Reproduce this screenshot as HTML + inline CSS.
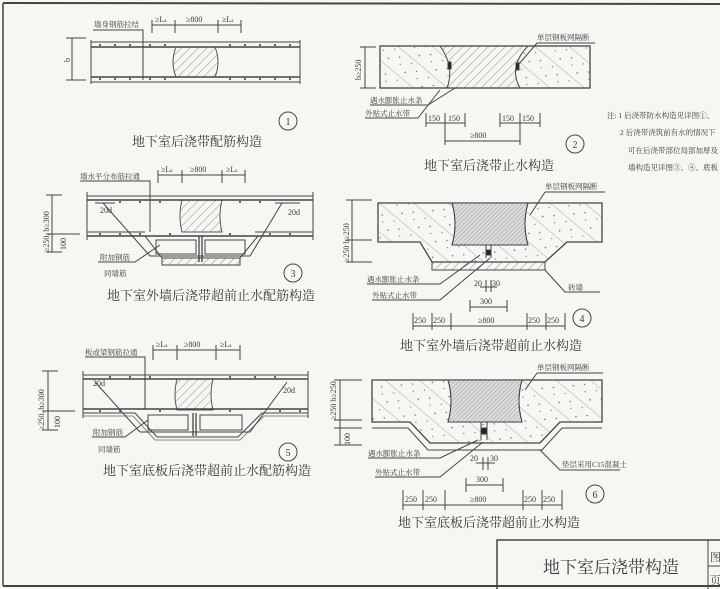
<!DOCTYPE html>
<html><head><meta charset="utf-8"><style>
html,body{margin:0;padding:0;background:#f6f6f3;}
svg{display:block;}
text{font-family:"Liberation Serif","Noto Serif CJK SC",serif;fill:#3a3a3a;}
.t{font-size:13px;}
.s{font-size:7.5px;}
.d{font-size:8px;}
.n{font-size:10px;text-anchor:middle;}
</style></head><body>
<svg width="720" height="589" viewBox="0 0 720 589" xmlns="http://www.w3.org/2000/svg">
<defs>
<pattern id="h" width="6" height="6" patternUnits="userSpaceOnUse" patternTransform="rotate(45)"><line x1="0" y1="0" x2="0" y2="6" stroke="#777" stroke-width="0.8"/></pattern>
<pattern id="hd" width="3" height="3" patternUnits="userSpaceOnUse" patternTransform="rotate(45)"><line x1="0" y1="0" x2="0" y2="3" stroke="#888" stroke-width="0.8"/></pattern>
<pattern id="c" width="22" height="22" patternUnits="userSpaceOnUse" patternTransform="rotate(-50)"><line x1="0" y1="0" x2="0" y2="22" stroke="#888" stroke-width="0.7"/><circle cx="7" cy="5" r="0.8" fill="#666"/><circle cx="15" cy="13" r="0.7" fill="#666"/><circle cx="10" cy="18" r="0.6" fill="#666"/><circle cx="18" cy="4" r="0.6" fill="#666"/></pattern>
</defs>
<g stroke="#444" fill="none" stroke-width="1">
<line x1="3" y1="3" x2="720" y2="4" stroke-width="2"/>
<line x1="3" y1="3" x2="3" y2="586" stroke-width="1.5"/>
<line x1="3" y1="586" x2="720" y2="586" stroke-width="2"/>
<rect x="497" y="540" width="230" height="50" stroke-width="1.5"/>
<line x1="708" y1="540" x2="708" y2="589"/>
<line x1="708" y1="566" x2="720" y2="566"/>

<!-- Diagram 1 -->
<path d="M176,47 Q170,62 176,77 L215,77 Q221,62 215,47 Z" fill="url(#h)" stroke="#555"/>
<line x1="91" y1="42" x2="300" y2="42"/><line x1="91" y1="47" x2="300" y2="47" stroke-width="1.5"/>
<line x1="91" y1="77" x2="300" y2="77" stroke-width="1.5"/><line x1="91" y1="82" x2="300" y2="82"/>
<line x1="91" y1="40" x2="91" y2="84"/><line x1="300" y1="40" x2="300" y2="84"/>
<line x1="66" y1="38" x2="86" y2="38"/><line x1="66" y1="80" x2="86" y2="80"/><line x1="72" y1="38" x2="72" y2="80"/>
<polyline points="93,30 143,30 143,80"/>
<line x1="152" y1="25" x2="241" y2="25"/>
<line x1="152" y1="20" x2="152" y2="33"/><line x1="175" y1="20" x2="175" y2="33"/><line x1="218" y1="20" x2="218" y2="33"/><line x1="241" y1="20" x2="241" y2="33"/>
<circle cx="288" cy="121" r="9"/>

<!-- Diagram 2 -->
<path d="M380,46 L440,46 Q455,67 447,88 L380,88 Z" fill="url(#c)" stroke="none"/>
<path d="M440,46 L528,46 Q508,67 520,88 L447,88 Q455,67 440,46 Z" fill="url(#h)" stroke="none"/>
<path d="M528,46 L590,46 L590,88 L520,88 Q508,67 528,46 Z" fill="url(#c)" stroke="none"/>
<path d="M440,46 Q455,67 447,88 M528,46 Q508,67 520,88"/>
<rect x="380" y="46" width="210" height="42" stroke-width="1.3"/>
<rect x="448" y="62" width="3" height="7" fill="#222"/><rect x="516" y="63" width="3" height="7" fill="#222"/>
<line x1="360" y1="47" x2="376" y2="47"/><line x1="360" y1="88" x2="376" y2="88"/><line x1="365" y1="47" x2="365" y2="88"/>
<polyline points="370,105 428,105 455,88"/><polyline points="365,118 418,118 440,90"/>
<polyline points="537,43 595,43"/><line x1="537" y1="43" x2="519" y2="64"/>
<line x1="426" y1="123" x2="465" y2="123"/><line x1="500" y1="123" x2="540" y2="123"/>
<line x1="426" y1="113" x2="426" y2="127"/><line x1="445" y1="113" x2="445" y2="145"/><line x1="465" y1="113" x2="465" y2="127"/>
<line x1="500" y1="113" x2="500" y2="127"/><line x1="520" y1="113" x2="520" y2="145"/><line x1="540" y1="113" x2="540" y2="127"/>
<line x1="445" y1="141" x2="520" y2="141"/>
<circle cx="575" cy="144" r="9"/>

<!-- Diagram 3 -->
<path d="M182,200 Q178,216 182,232 L222,232 Q218,216 222,200 Z" fill="url(#h)" stroke="#555"/>
<line x1="87" y1="196" x2="313" y2="196"/><line x1="87" y1="200" x2="313" y2="200" stroke-width="1.5"/>
<polyline points="87,232 145,232"/><polyline points="255,232 313,232"/>
<line x1="87" y1="236" x2="313" y2="236" stroke-width="1.5"/>
<polyline points="145,236 162,258 240,258 258,236"/>
<rect x="162" y="258" width="78" height="7" fill="url(#h)"/>
<line x1="103" y1="203" x2="150" y2="256"/><line x1="150" y1="256" x2="250" y2="256"/><line x1="282" y1="203" x2="250" y2="256"/>
<line x1="95" y1="203" x2="115" y2="203"/><line x1="275" y1="203" x2="300" y2="203"/>
<rect x="156" y="240" width="40" height="14"/><rect x="205" y="240" width="40" height="14"/>
<line x1="199" y1="236" x2="199" y2="262" stroke-width="1.3"/><line x1="202" y1="236" x2="202" y2="262" stroke-width="1.3"/>
<line x1="87" y1="192" x2="87" y2="240"/><line x1="313" y1="192" x2="313" y2="240"/>
<polyline points="80,181 150,181 150,232"/>
<line x1="158" y1="175" x2="245" y2="175"/>
<line x1="158" y1="170" x2="158" y2="183"/><line x1="182" y1="170" x2="182" y2="183"/><line x1="222" y1="170" x2="222" y2="183"/><line x1="245" y1="170" x2="245" y2="183"/>
<line x1="46" y1="195" x2="62" y2="195"/><line x1="46" y1="234" x2="80" y2="234"/><line x1="46" y1="252" x2="62" y2="252"/><line x1="52" y1="195" x2="52" y2="252"/>
<polyline points="98,262 135,262 160,245"/>
<circle cx="293" cy="273" r="9"/>

<!-- Diagram 4 -->
<path d="M378,203 L602,203 L602,242 L567,242 L545,262 L432,262 L420,242 L378,242 Z" fill="url(#c)" stroke-width="1.3"/>
<path d="M452,203 L528,203 Q522,224 528,245 L452,245 Q458,224 452,203 Z" fill="#ddd" stroke="#555"/>
<path d="M452,203 L528,203 Q522,224 528,245 L452,245 Q458,224 452,203 Z" fill="url(#hd)"/>
<rect x="432" y="262" width="113" height="8" fill="url(#h)"/>
<line x1="486" y1="245" x2="486" y2="258"/><line x1="491" y1="245" x2="491" y2="258"/>
<rect x="486" y="250" width="5" height="5" fill="#222"/>
<line x1="352" y1="200" x2="352" y2="262"/><line x1="346" y1="200" x2="372" y2="200"/><line x1="346" y1="240" x2="372" y2="240"/><line x1="346" y1="262" x2="372" y2="262"/>
<polyline points="545,192 605,192"/><line x1="545" y1="192" x2="530" y2="215"/>
<polyline points="367,284 440,284 480,255"/><polyline points="372,300 440,300 490,258"/>
<polyline points="545,270 565,292 600,292"/>
<line x1="486" y1="280" x2="486" y2="292"/><line x1="491" y1="280" x2="491" y2="292"/><line x1="480" y1="287" x2="497" y2="287"/>
<line x1="470" y1="307" x2="507" y2="307"/><line x1="470" y1="300" x2="470" y2="312"/><line x1="507" y1="300" x2="507" y2="312"/>
<line x1="413" y1="326" x2="565" y2="326"/>
<line x1="413" y1="313" x2="413" y2="330"/><line x1="432" y1="313" x2="432" y2="330"/><line x1="451" y1="313" x2="451" y2="330"/><line x1="527" y1="313" x2="527" y2="330"/><line x1="546" y1="313" x2="546" y2="330"/><line x1="565" y1="313" x2="565" y2="330"/>
<circle cx="582" cy="318" r="9"/>

<!-- Diagram 5 -->
<path d="M177,379 Q173,394 177,410 L213,410 Q209,394 213,379 Z" fill="url(#h)" stroke="#555"/>
<line x1="83" y1="375" x2="308" y2="375"/><line x1="83" y1="379" x2="308" y2="379" stroke-width="1.5"/>
<line x1="83" y1="409" x2="308" y2="409" stroke-width="1.5"/>
<polyline points="83,413 135,413 157,437 238,437 262,413 308,413"/>
<polyline points="83,416 133,416 155,440 240,440 264,416 308,416" stroke="#888"/>
<line x1="95" y1="382" x2="140" y2="432"/><line x1="140" y1="432" x2="250" y2="432"/><line x1="287" y1="382" x2="250" y2="432"/>
<rect x="148" y="415" width="40" height="15"/><rect x="200" y="415" width="42" height="15"/>
<line x1="193" y1="413" x2="193" y2="436" stroke-width="1.3"/><line x1="196" y1="413" x2="196" y2="436" stroke-width="1.3"/>
<line x1="83" y1="371" x2="83" y2="418"/><line x1="308" y1="371" x2="308" y2="418"/>
<polyline points="85,357 145,357 145,409"/>
<line x1="153" y1="350" x2="240" y2="350"/>
<line x1="153" y1="345" x2="153" y2="360"/><line x1="177" y1="345" x2="177" y2="360"/><line x1="216" y1="345" x2="216" y2="360"/><line x1="240" y1="345" x2="240" y2="360"/>
<line x1="42" y1="371" x2="58" y2="371"/><line x1="42" y1="411" x2="75" y2="411"/><line x1="42" y1="430" x2="58" y2="430"/><line x1="48" y1="371" x2="48" y2="430"/>
<polyline points="92,437 125,437 148,420"/>
<circle cx="288" cy="452" r="9"/>

<!-- Diagram 6 -->
<path d="M372,380 L602,380 L602,422 L560,422 L540,443 L430,443 L410,422 L372,422 Z" fill="url(#c)" stroke-width="1.3"/>
<polyline points="372,428 408,428 428,450 542,450 562,428 602,428"/>
<path d="M448,380 L522,380 Q516,401 522,422 L448,422 Q454,401 448,380 Z" fill="#ddd" stroke="#555"/>
<path d="M448,380 L522,380 Q516,401 522,422 L448,422 Q454,401 448,380 Z" fill="url(#hd)"/>
<line x1="481" y1="422" x2="481" y2="440"/><line x1="487" y1="422" x2="487" y2="440"/>
<rect x="481" y="428" width="6" height="6" fill="#222"/>
<line x1="340" y1="380" x2="340" y2="445"/><line x1="334" y1="380" x2="362" y2="380"/><line x1="334" y1="420" x2="362" y2="420"/><line x1="334" y1="428" x2="362" y2="428"/><line x1="334" y1="445" x2="362" y2="445"/>
<polyline points="537,373 603,373"/><line x1="537" y1="373" x2="525" y2="390"/>
<polyline points="368,458 440,458 478,440"/><polyline points="375,477 440,477 483,442"/>
<polyline points="540,450 560,470 620,470"/>
<line x1="483" y1="457" x2="483" y2="470"/><line x1="488" y1="457" x2="488" y2="470"/><line x1="476" y1="463" x2="495" y2="463"/>
<line x1="466" y1="485" x2="503" y2="485"/><line x1="466" y1="478" x2="466" y2="492"/><line x1="503" y1="478" x2="503" y2="492"/>
<line x1="403" y1="505" x2="562" y2="505"/>
<line x1="403" y1="490" x2="403" y2="510"/><line x1="423" y1="490" x2="423" y2="510"/><line x1="445" y1="490" x2="445" y2="510"/><line x1="523" y1="490" x2="523" y2="510"/><line x1="542" y1="490" x2="542" y2="510"/><line x1="562" y1="490" x2="562" y2="510"/>
<circle cx="595" cy="494" r="9"/>
</g>

<g fill="#333">
<circle cx="100" cy="45" r="1"/><circle cx="115" cy="45" r="1"/><circle cx="130" cy="45" r="1"/><circle cx="150" cy="45" r="1"/><circle cx="165" cy="45" r="1"/><circle cx="230" cy="45" r="1"/><circle cx="245" cy="45" r="1"/><circle cx="260" cy="45" r="1"/><circle cx="275" cy="45" r="1"/><circle cx="290" cy="45" r="1"/>
<circle cx="100" cy="79" r="1"/><circle cx="115" cy="79" r="1"/><circle cx="130" cy="79" r="1"/><circle cx="150" cy="79" r="1"/><circle cx="165" cy="79" r="1"/><circle cx="230" cy="79" r="1"/><circle cx="245" cy="79" r="1"/><circle cx="260" cy="79" r="1"/><circle cx="275" cy="79" r="1"/><circle cx="290" cy="79" r="1"/>
<circle cx="120" cy="202" r="1"/><circle cx="140" cy="202" r="1"/><circle cx="160" cy="202" r="1"/><circle cx="240" cy="202" r="1"/><circle cx="260" cy="202" r="1"/>
<circle cx="100" cy="234" r="1"/><circle cx="120" cy="234" r="1"/><circle cx="140" cy="234" r="1"/><circle cx="170" cy="234" r="1"/><circle cx="230" cy="234" r="1"/><circle cx="270" cy="234" r="1"/><circle cx="290" cy="234" r="1"/>
<circle cx="110" cy="377" r="1"/><circle cx="130" cy="377" r="1"/><circle cx="150" cy="377" r="1"/><circle cx="230" cy="377" r="1"/><circle cx="255" cy="377" r="1"/><circle cx="275" cy="377" r="1"/>
<circle cx="100" cy="411" r="1"/><circle cx="120" cy="411" r="1"/><circle cx="160" cy="411" r="1"/><circle cx="230" cy="411" r="1"/><circle cx="280" cy="411" r="1"/><circle cx="300" cy="411" r="1"/>
</g>

<text class="s" x="94" y="27">墙身钢筋拉结</text>
<text class="d" x="155" y="22">≥L<tspan font-size="5">a</tspan></text><text class="d" x="186" y="22">≥800</text><text class="d" x="222" y="22">≥L<tspan font-size="5">a</tspan></text>
<text class="d" x="70" y="62" transform="rotate(-90 70 62)">b</text>
<text class="n" x="288" y="125">1</text>
<text class="t" x="132" y="146">地下室后浇带配筋构造</text>

<text class="s" x="537" y="40">单层钢板网隔断</text>
<text class="d" x="361" y="80" transform="rotate(-90 361 80)">b≥250</text>
<text class="s" x="370" y="103">遇水膨胀止水条</text>
<text class="s" x="365" y="116">外贴式止水带</text>
<text class="d" x="428" y="121">150</text><text class="d" x="448" y="121">150</text>
<text class="d" x="502" y="121">150</text><text class="d" x="522" y="121">150</text>
<text class="d" x="470" y="138">≥800</text>
<text class="n" x="575" y="148">2</text>
<text class="t" x="424" y="170">地下室后浇带止水构造</text>

<text class="s" x="607" y="118" font-size="6.5">注: 1 后浇带防水构造见详图①、</text>
<text class="s" x="620" y="135" font-size="6.5">2 后浇带浇筑前有水的情况下</text>
<text class="s" x="628" y="153" font-size="6.5">可在后浇带部位局部加厚及</text>
<text class="s" x="628" y="170" font-size="6.5">墙构造见详图③、④、底板</text>

<text class="s" x="80" y="179">墙水平分布筋拉通</text>
<text class="d" x="161" y="172">≥L<tspan font-size="5">a</tspan></text><text class="d" x="190" y="172">≥800</text><text class="d" x="226" y="172">≥L<tspan font-size="5">a</tspan></text>
<text class="d" x="100" y="213">20d</text><text class="d" x="288" y="215">20d</text>
<text class="d" x="49" y="252" transform="rotate(-90 49 252)">≥250, b≥300</text>
<text class="d" x="66" y="250" transform="rotate(-90 66 250)">100</text>
<text class="s" x="100" y="260">附加钢筋</text>
<text class="s" x="104" y="276">同墙筋</text>
<text class="n" x="293" y="277">3</text>
<text class="t" x="107" y="300">地下室外墙后浇带超前止水配筋构造</text>

<text class="s" x="545" y="189">单层钢板网隔断</text>
<text class="d" x="349" y="262" transform="rotate(-90 349 262)">≥250  b≥250</text>
<text class="s" x="367" y="282">遇水膨胀止水条</text>
<text class="s" x="372" y="298">外贴式止水带</text>
<text class="s" x="568" y="290">砖墙</text>
<text class="d" x="474" y="286">20</text><text class="d" x="492" y="286">30</text>
<text class="d" x="480" y="304">300</text>
<text class="d" x="414" y="323">250</text><text class="d" x="433" y="323">250</text><text class="d" x="478" y="323">≥800</text><text class="d" x="528" y="323">250</text><text class="d" x="547" y="323">250</text>
<text class="n" x="582" y="322">4</text>
<text class="t" x="400" y="350">地下室外墙后浇带超前止水构造</text>

<text class="s" x="85" y="355">板或梁钢筋拉通</text>
<text class="d" x="156" y="347">≥L<tspan font-size="5">a</tspan></text><text class="d" x="184" y="347">≥800</text><text class="d" x="220" y="347">≥L<tspan font-size="5">a</tspan></text>
<text class="d" x="93" y="386">20d</text><text class="d" x="283" y="393">20d</text>
<text class="d" x="44" y="430" transform="rotate(-90 44 430)">≥250, b≥300</text>
<text class="d" x="60" y="428" transform="rotate(-90 60 428)">100</text>
<text class="s" x="93" y="435">附加钢筋</text>
<text class="s" x="98" y="452">同墙筋</text>
<text class="n" x="288" y="456">5</text>
<text class="t" x="103" y="475">地下室底板后浇带超前止水配筋构造</text>

<text class="s" x="537" y="370">单层钢板网隔断</text>
<text class="d" x="336" y="420" transform="rotate(-90 336 420)">≥250 b≥250</text>
<text class="d" x="350" y="445" transform="rotate(-90 350 445)">100</text>
<text class="s" x="368" y="456">遇水膨胀止水条</text>
<text class="s" x="375" y="475">外贴式止水带</text>
<text class="s" x="562" y="467">垫层采用C15混凝土</text>
<text class="d" x="470" y="461">20</text><text class="d" x="490" y="461">30</text>
<text class="d" x="476" y="482">300</text>
<text class="d" x="405" y="502">250</text><text class="d" x="425" y="502">250</text><text class="d" x="470" y="502">≥800</text><text class="d" x="524" y="502">250</text><text class="d" x="543" y="502">250</text>
<text class="n" x="595" y="498">6</text>
<text class="t" x="398" y="527">地下室底板后浇带超前止水构造</text>

<text x="543" y="573" font-size="17">地下室后浇带构造</text>
<text x="710" y="561" font-size="11">图</text>
<text x="710" y="584" font-size="11">页</text>
</svg>
</body></html>
